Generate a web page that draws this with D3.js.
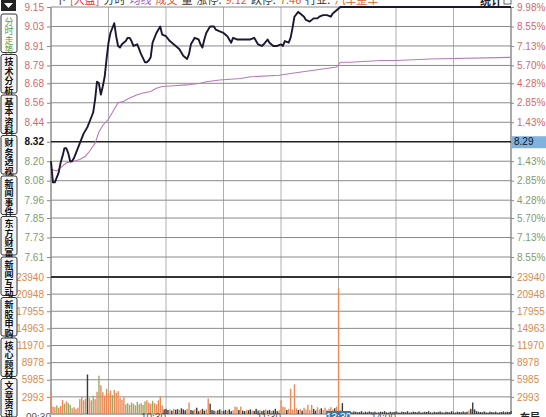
<!DOCTYPE html>
<html><head><meta charset="utf-8">
<script src="https://cdn.jsdelivr.net/npm/d3@7"></script>
<style>
html,body{margin:0;padding:0;background:#fff;}
svg{display:block;font-family:"Liberation Sans","DejaVu Sans",sans-serif;}
</style></head>
<body>
<svg id="c" width="546" height="417"></svg>
<script>
// ---------- data ----------
const priceTicks = ["9.15","9.03","8.91","8.79","8.68","8.56","8.44","8.32","8.20","8.08","7.96","7.85","7.73","7.61"];
const pctTicks = ["9.98%","8.55%","7.13%","5.70%","4.28%","2.85%","1.43%","8.29","1.43%","2.85%","4.28%","5.70%","7.13%","8.55%"];
const volTicks = [23940,20948,17955,14963,11970,8978,5985,2993];
const gridMinutes = [0,30,60,90,120,150,180,210,240];
const timeLabels = [{m:0,t:"09:30"},{m:60,t:"10:30"},{m:120,t:"11:30"},{m:180,t:"14:00"}];
const cursorTime = {m:150,t:"13:30"};

const priceMin = [0,1,2,4,5,6,7,8,9,10,11,12,13,15,17,19,20,22,23,24,25,26,27,28,29,30,31,33,34,35,36,37,39,40,41,42,43,45,46,47,49,50,51,52,53,55,56,57,58,60,62,64,66,67,69,71,72,73,74,75,77,78,79,80,81,83,85,86,88,90,92,94,95,97,99,100,102,104,106,107,108,110,111,113,114,116,118,120,121,122,124,125,126,127,129,130,132,133,135,137,139,140,142,144,146,147,149,151,240];
const priceVal = [8.20,8.07,8.07,8.13,8.19,8.23,8.28,8.28,8.25,8.20,8.20,8.22,8.25,8.31,8.37,8.41,8.44,8.50,8.58,8.69,8.68,8.61,8.66,8.72,8.83,8.93,8.99,9.05,8.97,8.91,8.90,8.92,8.94,8.96,8.96,8.94,8.91,8.92,8.89,8.86,8.81,8.81,8.82,8.84,8.93,8.99,9.01,9.03,8.98,8.97,8.94,8.92,8.90,8.89,8.85,8.83,8.86,8.92,8.94,8.96,8.95,8.92,8.90,8.95,8.99,9.03,9.03,9.01,9.00,8.99,8.97,8.93,8.96,8.95,8.95,8.95,8.95,8.95,8.96,8.94,8.92,8.91,8.92,8.95,8.93,8.91,8.91,8.92,8.91,8.94,8.93,8.96,9.02,9.09,9.12,9.11,9.09,9.07,9.06,9.08,9.08,9.09,9.10,9.10,9.09,9.11,9.13,9.15,9.15];

const avgMin = [0,3,6,8,12,15,18,20,23,25,27,30,33,35,38,41,45,48,52,55,58,64,71,78,81,88,99,104,119,125,137,149,151,156,172,180,198,240];
const avgVal = [8.15,8.14,8.17,8.19,8.20,8.21,8.23,8.26,8.31,8.38,8.42,8.46,8.52,8.56,8.57,8.59,8.61,8.62,8.63,8.65,8.66,8.665,8.67,8.68,8.69,8.70,8.71,8.72,8.73,8.74,8.76,8.78,8.81,8.81,8.82,8.82,8.83,8.84];

const volumes = [
3800,1300,1200,1500,1100,1400,2450,1800,2200,1900,
1600,1000,1200,900,1100,2600,3000,2400,2700,6900,
2800,2400,3200,2600,3900,6700,5000,3800,3200,4400,
3600,4100,3300,4200,3700,4000,2800,2500,2900,1700,
1900,1600,2000,1800,1500,2100,1700,1900,1600,2200,
2400,2000,1800,2300,1900,1700,2400,3100,1500,800,
900,700,800,600,900,750,850,700,1000,800,
650,900,2000,700,600,800,1100,500,700,900,
600,800,2700,1800,700,600,500,650,800,600,
550,700,600,800,500,650,1300,1200,700,1300,
600,500,700,650,800,600,550,900,600,700,
500,650,800,600,700,550,600,900,500,650,
2400,1300,1200,700,900,4400,800,5200,1000,700,
900,600,1100,800,1600,700,1600,900,600,1200,
800,1000,700,1100,600,900,1200,800,1000,1300,
21950,600,1900,500,400,350,500,300,450,400,
300,350,500,250,400,300,450,350,300,400,
250,300,400,350,500,300,250,400,300,350,
450,300,250,400,350,300,500,250,300,400,
350,300,450,250,300,400,350,500,300,250,
400,300,350,450,300,250,400,350,300,500,
300,250,400,350,300,450,300,400,600,900,
2000,800,500,400,350,300,450,300,250,400,
350,300,400,250,300,350,450,300,400,350,
500];
const volColors = (
"rrrgrrrgrg"+"grrrrrrrgk"+"rrgrrgrrrr"+"rrgrrrrrrg"+"grgrgggrgg"+
"rrrgrrrrrk"+"kkrkrkkrkk"+"krrkkrkkrk"+"krrkkkrkkr"+"kkrkkrrrkr"+
"kkrkkrkkkr"+"kkrkkrkkkr"+"rrrkrrrrrk"+"rkrrrrrkkr"+"rkrrkrrrkr"+
"rkkkkkkkkk"+"kkkkkkkkkk"+"kkkkkkkkkk"+"kkkkkkkkkk"+"kkkkkkkkkk"+
"kkkkkkkkkk"+"kkkkkkkkrk"+"kkkkkkkkkk"+"kkkkkkkkkk"+"k");

const tabs = ["分时走势","技术分析","基本资料","财务透视","新闻事件","东方财富","新闻互动","新股申购","核心题材","文章资讯"];
const headerParts = [
  {t:"下",c:"#333"},{t:"[大盘]",c:"#d04040"},{t:"分时",c:"#333"},{t:"均线",c:"#a050c0"},
  {t:"成交",c:"#e06030"},{t:"量",c:"#333"},{t:"涨停:",c:"#333"},{t:"9.12",c:"#e06030"},
  {t:"跌停:",c:"#333"},{t:"7.46",c:"#e06030"},{t:"行业:",c:"#333"},{t:"汽车整车",c:"#e06030"}];

// ---------- layout ----------
const L = 51, R = 511;
const svg = d3.select("#c");
const x = d3.scaleLinear().domain([0,240]).range([L,R]);
const yP = d3.scaleLinear().domain([7.61,9.15]).range([257,7]);
const yV = d3.scaleLinear().domain([0,23940]).range([414,277]);

const upC = "#d06a6a", dnC = "#7f9a70", volC = "#d98a4c";
const colorMap = {r:"#ea8a55", g:"#93ad68", k:"#3a3a3a"};

// vertical grid
svg.append("g").selectAll("line").data(gridMinutes).join("line")
  .attr("x1",d=>x(d)).attr("x2",d=>x(d)).attr("y1",7).attr("y2",414)
  .attr("stroke",d=>(d===0||d===240)?"#555":"#b0b0b0").attr("stroke-width",1);

// price horizontal grid
svg.append("g").selectAll("line").data(priceTicks).join("line")
  .attr("x1",L).attr("x2",R).attr("y1",d=>yP(+d)).attr("y2",d=>yP(+d))
  .attr("stroke",d=>d==="8.32"?"#222":"#8a8a8a").attr("stroke-width",d=>d==="8.32"?1.6:1);

// volume horizontal grid
svg.append("g").selectAll("line").data(volTicks).join("line")
  .attr("x1",L).attr("x2",R).attr("y1",d=>yV(d)).attr("y2",d=>yV(d))
  .attr("stroke",d=>d===23940?"#333":"#8a8a8a").attr("stroke-width",d=>d===23940?2:1);
svg.append("line").attr("x1",L).attr("x2",R).attr("y1",yV(0)).attr("y2",yV(0)).attr("stroke","#666");

// left axis
const axL = d3.axisLeft(yP).tickValues(priceTicks.map(Number)).tickSize(4).tickFormat((d,i)=>priceTicks[i]);
const gL = svg.append("g").attr("transform",`translate(${L},0)`).call(axL);
gL.select(".domain").remove();
gL.selectAll("line").attr("stroke","#888");
gL.selectAll("text").attr("font-size",10)
  .attr("fill",(d,i)=>i<7?upC:(i===7?"#111":dnC))
  .attr("font-weight",(d,i)=>i===7?"bold":"normal");

// right axis
const axR = d3.axisRight(yP).tickValues(priceTicks.map(Number)).tickSize(3).tickFormat((d,i)=>pctTicks[i]);
const gR = svg.append("g").attr("transform",`translate(${R},0)`).call(axR);
gR.select(".domain").remove();
gR.selectAll("line").attr("stroke","#888");
gR.selectAll(".tick").filter((d,i)=>i===7).insert("rect","text")
  .attr("x",1).attr("y",-6).attr("width",34).attr("height",12).attr("fill","#7fb2dc");
gR.selectAll("text").attr("font-size",10)
  .attr("fill",(d,i)=>i<7?upC:(i===7?"#0a1a30":dnC))
  .attr("x",(d,i)=>i===7?3:6);

// volume axes
const gVL = svg.append("g").attr("transform",`translate(${L},0)`)
  .call(d3.axisLeft(yV).tickValues(volTicks).tickSize(4).tickFormat(d3.format("d")));
gVL.select(".domain").remove();
gVL.selectAll("line").attr("stroke","#888");
gVL.selectAll("text").attr("font-size",10).attr("fill",volC);
const gVR = svg.append("g").attr("transform",`translate(${R},0)`)
  .call(d3.axisRight(yV).tickValues(volTicks).tickSize(3).tickFormat(d3.format("d")));
gVR.select(".domain").remove();
gVR.selectAll("line").attr("stroke","#888");
gVR.selectAll("text").attr("font-size",10).attr("fill",volC);

// volume bars
svg.append("g").selectAll("rect").data(volumes).join("rect")
  .attr("x",(d,i)=>x(i)-0.65).attr("width",1.4)
  .attr("y",d=>yV(d)).attr("height",d=>yV(0)-yV(d))
  .attr("fill",(d,i)=>colorMap[volColors[i]]||"#3a3a3a");

// average line
const avgData = avgMin.map((m,i)=>[m,avgVal[i]]);
svg.append("path").datum(avgData)
  .attr("d",d3.line().x(d=>x(d[0])).y(d=>yP(d[1])))
  .attr("fill","none").attr("stroke","#b77ab8").attr("stroke-width",1.1);

// price line
const priceData = priceMin.map((m,i)=>[m,priceVal[i]]);
svg.append("path").datum(priceData)
  .attr("d",d3.line().x(d=>x(d[0])).y(d=>yP(d[1])))
  .attr("fill","none").attr("stroke","#1d1630").attr("stroke-width",1.9).attr("stroke-linejoin","round");

// time labels (bottom, partly below the window edge as in the reference)
svg.append("g").selectAll("text").data(timeLabels).join("text")
  .attr("x",d=>x(d.m)).attr("y",421).attr("text-anchor","end")
  .attr("font-size",10).attr("fill","#555").text(d=>d.t);
svg.append("rect").attr("x",x(cursorTime.m)-12).attr("y",411).attr("width",24).attr("height",8).attr("fill","#3f78a8");
svg.append("text").attr("x",x(cursorTime.m)).attr("y",421).attr("text-anchor","middle")
  .attr("font-size",10).attr("fill","#fff").text(cursorTime.t);
svg.append("text").attr("x",520).attr("y",421).attr("font-size",10).attr("font-weight","bold")
  .attr("font-family","'Noto Sans CJK SC',sans-serif").attr("fill","#222").text("布局");

// header (partly above the window edge as in the reference)
let hx = 55;
const hg = svg.append("g");
headerParts.forEach(p=>{
  const t = hg.append("text").attr("x",hx).attr("y",4).attr("font-size",11)
    .attr("font-family","'Noto Sans CJK SC',sans-serif").attr("fill",p.c).text(p.t);
  hx += t.node().getComputedTextLength() + 4;
});
svg.append("text").attr("x",480).attr("y",5).attr("font-size",11).attr("font-weight","bold")
  .attr("font-family","'Noto Sans CJK SC',sans-serif").attr("fill","#222").text("统计");
svg.append("rect").attr("x",504).attr("y",-3).attr("width",7).attr("height",7).attr("fill","none").attr("stroke","#666");

// left tab strip
const tg = svg.append("g");
tg.append("rect").attr("x",1).attr("y",0).attr("width",15).attr("height",11).attr("fill","#222");
tg.append("path").attr("d","M4,3 L13,3 L8.5,8 Z").attr("fill","#fff");
const tabH = 40.5, tab0 = 14;
tabs.forEach((name,i)=>{
  const y0 = tab0 + i*tabH;
  tg.append("rect").attr("x",1).attr("y",y0).attr("width",16).attr("height",tabH-2)
    .attr("rx",2).attr("fill",i===0?"#fff":"#f4f4f4").attr("stroke","#333").attr("stroke-width",1);
  tg.append("text").attr("x",9).attr("y",y0+3)
    .attr("font-size",9).attr("font-weight",i===0?"normal":"bold")
    .attr("font-family","'Noto Sans CJK SC',sans-serif")
    .attr("fill",i===0?"#5a9a4a":"#111")
    .attr("writing-mode","vertical-rl").attr("letter-spacing",0.5)
    .text(name);
});
</script>
</body></html>
